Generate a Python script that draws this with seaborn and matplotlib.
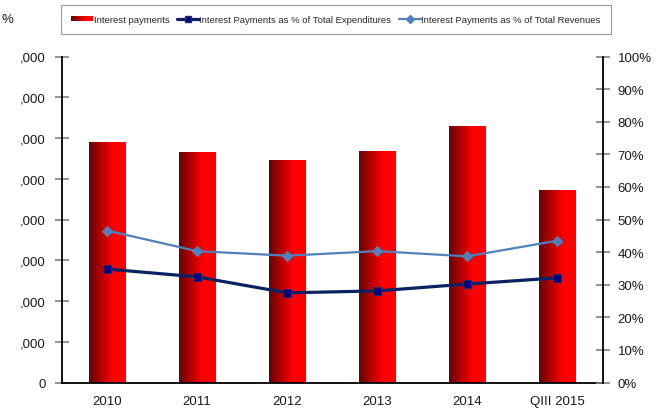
import numpy as np
import pandas as pd
import seaborn as sns
from matplotlib import pyplot as plt
from matplotlib.colors import LinearSegmentedColormap
from matplotlib.legend_handler import HandlerBase
from matplotlib.lines import Line2D
from matplotlib.patches import Rectangle

# values
years = ['2010', '2011', '2012', '2013', '2014', 'QIII 2015']
interest_payments = [5890, 5650, 5450, 5690, 6300, 4720]
pct_expenditures = [34.8, 32.4, 27.5, 28.1, 30.2, 32.1]
pct_revenues = [46.6, 40.3, 38.9, 40.3, 38.7, 43.5]

left_ticks = [0, 1000, 2000, 3000, 4000, 5000, 6000, 7000, 8000]
left_tick_labels = ['0', ',000', ',000', ',000', ',000', ',000', ',000', ',000', ',000']
right_ticks = [0, 10, 20, 30, 40, 50, 60, 70, 80, 90, 100]

sns.set_style('white')
plt.rcParams['font.family'] = ['Liberation Sans', 'DejaVu Sans']

df = pd.DataFrame({'year': years, 'payments': interest_payments})

red_grad = LinearSegmentedColormap.from_list(
    'red_grad', [(0, '#6e0000'), (0.65, '#ff0000'), (1, '#ff0000')])

fig = plt.figure(figsize=(6.6, 4.1), dpi=100)
ax = fig.add_axes([62 / 660, 26.5 / 410, 540.5 / 660, 326 / 410])

sns.barplot(data=df, x='year', y='payments', color='red', width=0.41,
            order=years, ax=ax)

# gradient fill on every bar
grad = np.linspace(0, 1, 64).reshape(1, -1)
for p in ax.patches:
    x0, w, h = p.get_x(), p.get_width(), p.get_height()
    ax.imshow(grad, cmap=red_grad, extent=[x0, x0 + w, 0, h],
              aspect='auto', zorder=p.get_zorder() + 0.1)
    p.set_facecolor('none')

ax.set_xlim(-0.5, len(years) - 0.5)
ax.set_ylim(0, 8000)
ax.set_xlabel('')
ax.set_ylabel('')

ax.set_yticks(left_ticks)
ax.set_yticklabels(left_tick_labels)

# ticks between the categories, labels at the centres
ax.set_xticks(np.arange(len(years) + 1) - 0.5)
ax.set_xticklabels([])
ax.set_xticks(np.arange(len(years)), minor=True)
ax.set_xticklabels(years, minor=True)
ax.tick_params(axis='x', which='minor', length=0, pad=9, labelsize=9.5,
               labelcolor='#1a1a1a')
ax.tick_params(axis='x', which='major', direction='inout', length=9,
               width=1, color='#808080')
ax.tick_params(axis='y', direction='inout', length=10, width=1.2,
               color='#808080', pad=6.5, labelsize=9.5, labelcolor='#1a1a1a')

for s in ['top', 'right']:
    ax.spines[s].set_visible(False)
for s in ['left', 'bottom']:
    ax.spines[s].set_color('black')
    ax.spines[s].set_linewidth(1.3)

ax2 = ax.twinx()
xpos = np.arange(len(years))
sns.lineplot(x=xpos, y=pct_revenues, ax=ax2, color='#4f81bd', linewidth=1.6,
             marker='D', markersize=5, markeredgecolor='#4f81bd')
sns.lineplot(x=xpos, y=pct_expenditures, ax=ax2, color='#0c2163',
             linewidth=2.3, marker='s', markersize=5.5,
             markerfacecolor='#00007a', markeredgecolor='#1c2c70')
ax2.set_ylim(0, 100)
ax2.set_yticks(right_ticks)
ax2.set_yticklabels([f'{t}%' for t in right_ticks])
ax2.tick_params(axis='y', direction='inout', length=10, width=1.2,
                color='#808080', pad=6, labelsize=9.5, labelcolor='#1a1a1a')
for s in ['top', 'left', 'bottom']:
    ax2.spines[s].set_visible(False)
ax2.spines['right'].set_color('black')
ax2.spines['right'].set_linewidth(1.3)
ax2.set_xlim(-0.5, len(years) - 0.5)


class GradientHandler(HandlerBase):
    def create_artists(self, legend, orig_handle, xdescent, ydescent,
                       width, height, fontsize, trans):
        n = 24
        arts = []
        for i in range(n):
            r = Rectangle((-xdescent + i * width / n, -ydescent + height * 0.1),
                          width / n * 1.05, height * 0.8,
                          facecolor=red_grad(i / (n - 1)), edgecolor='none',
                          transform=trans)
            arts.append(r)
        return arts


bar_handle = Rectangle((0, 0), 1, 1)
exp_handle = Line2D([], [], color='#0c2163', linewidth=2.3, marker='s',
                    markersize=5, markerfacecolor='#00007a',
                    markeredgecolor='#1c2c70')
rev_handle = Line2D([], [], color='#4f81bd', linewidth=1.6, marker='D',
                    markersize=4.5, markeredgecolor='#4f81bd')

leg = fig.legend([bar_handle, exp_handle, rev_handle],
                 ['Interest payments',
                  'Interest Payments as % of Total Expenditures',
                  'Interest Payments as % of Total Revenues'],
                 handler_map={Rectangle: GradientHandler()},
                 loc='center', ncol=3, mode='expand',
                 bbox_to_anchor=(61 / 660, 1 - 36 / 410, 550 / 660, 31 / 410),
                 fontsize=6.8, frameon=True, fancybox=False, borderpad=1.1,
                 handlelength=2.3, handletextpad=0.05, columnspacing=1.5,
                 borderaxespad=0)
leg.get_frame().set_edgecolor('#7f7f7f')
leg.get_frame().set_linewidth(0.8)

# small unit mark at the top-left corner
fig.text(1 / 660, 1 - 20 / 410, '%', ha='left', va='center',
         fontsize=9.5, color='#1a1a1a')

plt.savefig('out.png', dpi=100)
